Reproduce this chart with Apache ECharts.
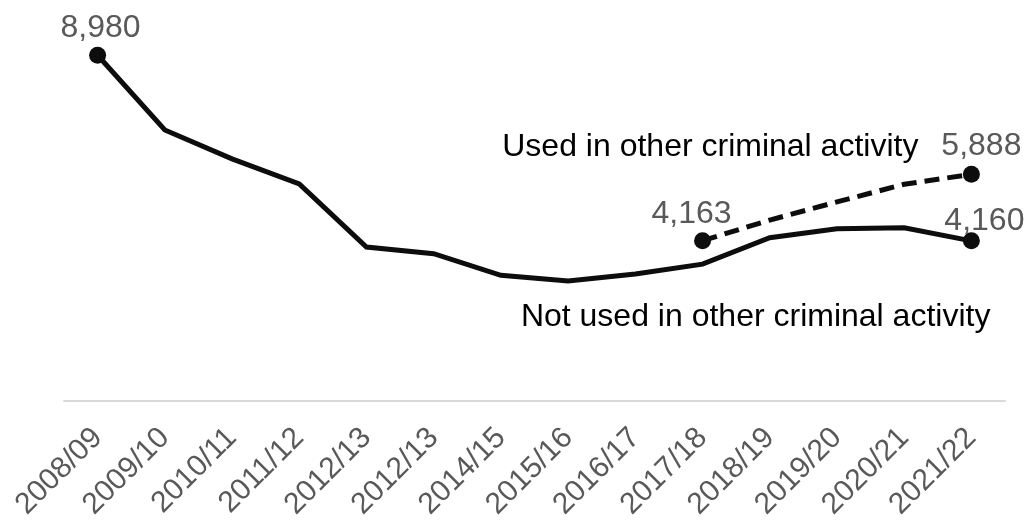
<!DOCTYPE html>
<html>
<head>
<meta charset="utf-8">
<script src="https://cdn.jsdelivr.net/npm/echarts@6/dist/echarts.min.js"></script>
<style>
html,body{margin:0;padding:0;background:#fff;}
#chart{width:1031px;height:525px;}
</style>
</head>
<body>
<div id="chart"></div>
<script>
const categories = ['2008/09','2009/10','2010/11','2011/12','2012/13','2012/13','2014/15','2015/16','2016/17','2017/18','2018/19','2019/20','2020/21','2021/22'];
const notUsed = [8980, 7040, 6290, 5640, 4000, 3825, 3265, 3115, 3300, 3555, 4240, 4475, 4500, 4160];
const usedOther = [null, null, null, null, null, null, null, null, null, 4163, 4700, 5170, 5630, 5888];
const seriesNames = ['Not used in other criminal activity', 'Used in other criminal activity'];

const FONT = 'Liberation Sans, Arial, sans-serif';
const LINE = '#0d0d0d';
const GREY = '#595959';

function fmt(v){ return v.toLocaleString('en-GB'); }

const lastIdx = categories.length - 1;
const firstUsed = usedOther.findIndex(v => v !== null);

const labelOffsets = {
  solidFirst: [3, 2],
  solidLast: [13, 10],
  usedFirst: [-11, 3],
  usedLast: [10, 1]
};

function pointItem(value, show, offset){
  if (!show) return { value: value, symbolSize: 0 };
  return {
    value: value,
    symbol: 'circle',
    symbolSize: 17,
    label: { show: true, position: 'top', formatter: fmt(value), offset: offset,
             color: GREY, fontSize: 32, fontFamily: FONT }
  };
}

const solidData = notUsed.map((v, i) => pointItem(v, i === 0 || i === lastIdx,
  i === 0 ? labelOffsets.solidFirst : labelOffsets.solidLast));
const usedData = usedOther.map((v, i) => v === null ? null : pointItem(v, i === firstUsed || i === lastIdx,
  i === firstUsed ? labelOffsets.usedFirst : labelOffsets.usedLast));

const chart = echarts.init(document.getElementById('chart'), null, {renderer: 'canvas'});
chart.setOption({
  animation: false,
  backgroundColor: '#ffffff',
  grid: { left: 64, right: 26, top: 16, bottom: 124, containLabel: false },
  xAxis: {
    type: 'category',
    data: categories,
    boundaryGap: true,
    axisLine: { show: true, lineStyle: { color: '#d9d9d9', width: 2 } },
    axisTick: { show: false },
    axisLabel: { rotate: 45, interval: 0, color: GREY, fontSize: 30, fontFamily: FONT, margin: 32 }
  },
  yAxis: {
    type: 'value', min: 0, max: 10000, interval: 2000,
    show: false,
    splitLine: { show: false }
  },
  series: [
    {
      name: seriesNames[0],
      type: 'line',
      data: solidData,
      symbol: 'circle',
      showAllSymbol: true,
      lineStyle: { color: LINE, width: 5, join: 'miter' },
      itemStyle: { color: LINE },
      z: 3,
      markPoint: {
        symbol: 'circle', symbolSize: 0,
        data: [{
          coord: [lastIdx, notUsed[lastIdx]],
          label: { show: true, position: 'left', distance: 0, offset: [19, 76],
                   formatter: seriesNames[0], color: '#000', fontSize: 32, fontFamily: FONT }
        }]
      }
    },
    {
      name: seriesNames[1],
      type: 'line',
      data: usedData,
      symbol: 'circle',
      lineStyle: { color: LINE, width: 5, type: [15, 8] },
      itemStyle: { color: LINE },
      z: 3,
      markPoint: {
        symbol: 'circle', symbolSize: 0,
        data: [{
          coord: [lastIdx, usedOther[lastIdx]],
          label: { show: true, position: 'left', distance: 0, offset: [-53, -27],
                   formatter: seriesNames[1], color: '#000', fontSize: 32, fontFamily: FONT }
        }]
      }
    }
  ]
});
</script>
</body>
</html>
